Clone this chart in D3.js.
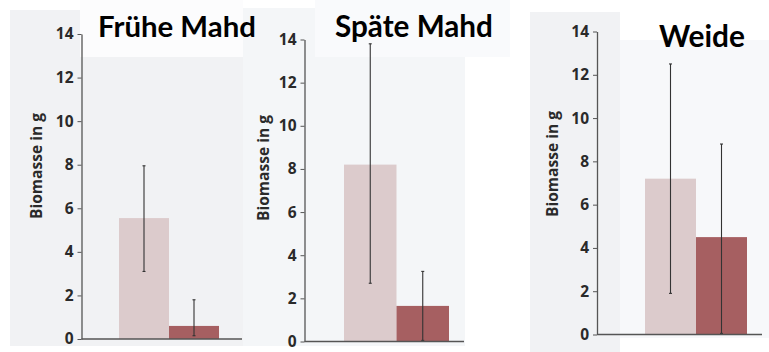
<!DOCTYPE html>
<html>
<head>
<meta charset="utf-8">
<script src="https://cdn.jsdelivr.net/npm/d3@7"></script>
<style>
  body { margin: 0; background: #ffffff; }
  svg { display: block; }
  .tick line { stroke: #555; }
  .domain { stroke: #555; stroke-width: 1.3px; }
</style>
</head>
<body>
<div id="chart"></div>
<script>
// values
var panelTitles = ["Frühe Mahd", "Späte Mahd", "Weide"];
var groups = ["früh", "spät"];
var lightMeans = [5.55, 8.2, 7.2];
var lightLow = [3.1, 2.7, 1.9];
var lightHigh = [7.95, 13.8, 12.5];
var darkMeans = [0.6, 1.65, 4.5];
var darkLow = [0.15, 0.05, 0.05];
var darkHigh = [1.8, 3.25, 8.8];
var yTicks = [0, 2, 4, 6, 8, 10, 12, 14];
var yLabel = "Biomasse in g";

var width = 769, height = 352;
var barColors = ["#dccbcc", "#a65f61"];

// layout of the three pasted panels
var layout = [
  { axisX: 81.5, y0: 339, y14: 34, barX: 119, barW: 50, baseEnd: 242, labelX: 37, labelY: 166,
    titleX: 98, titleY: 36.5, titleW: 158 },
  { axisX: 304.5, y0: 341.5, y14: 39.5, barX: 344, barW: 52.5, baseEnd: 464, labelX: 264, labelY: 168,
    titleX: 335, titleY: 36.5, titleW: 158 },
  { axisX: 597, y0: 334.5, y14: 31.5, barX: 645, barW: 51, baseEnd: 762, labelX: 553, labelY: 164,
    titleX: 659, titleY: 47, titleW: 86 }
];

var svg = d3.select("#chart").append("svg")
  .attr("width", width)
  .attr("height", height);

// scanned page backgrounds
var bg = [
  [10, 10, 233, 336, "#f1f2f4"],
  [80, 0, 163, 57, "#fcfcfd"],
  [243, 8, 222, 338, "#f4f6f8"],
  [315, 0, 195, 57, "#f9fafc"],
  [530, 12, 90, 340, "#f1f2f4"],
  [620, 40, 149, 298, "#f7f8fa"]
];
svg.selectAll("rect.bg").data(bg).enter().append("rect")
  .attr("class", "bg")
  .attr("x", function (d) { return d[0]; })
  .attr("y", function (d) { return d[1]; })
  .attr("width", function (d) { return d[2]; })
  .attr("height", function (d) { return d[3]; })
  .attr("fill", function (d) { return d[4]; });

// fit a text node to the width it takes in the picture
function fitWidth(t, target) {
  t.style("font-size", "100px");
  var w100 = t.node().getComputedTextLength();
  t.style("font-size", (100 * target / w100) + "px");
}

panelTitles.forEach(function (title, i) {
  var L = layout[i];
  var g = svg.append("g");

  var y = d3.scaleLinear().domain([0, 14]).range([L.y0, L.y14]);
  var x = d3.scaleBand().domain(groups).range([L.barX, L.barX + 2 * L.barW]).padding(0);

  var means = [lightMeans[i], darkMeans[i]];
  var lows = [lightLow[i], darkLow[i]];
  var highs = [lightHigh[i], darkHigh[i]];

  // bars
  g.selectAll("rect.bar").data(groups).enter().append("rect")
    .attr("class", "bar")
    .attr("x", function (d) { return x(d); })
    .attr("width", x.bandwidth())
    .attr("y", function (d, j) { return y(means[j]); })
    .attr("height", function (d, j) { return y(0) - y(means[j]); })
    .attr("fill", function (d, j) { return barColors[j]; });

  // error bars
  g.selectAll("line.err").data(groups).enter().append("line")
    .attr("class", "err")
    .attr("x1", function (d) { return x(d) + x.bandwidth() / 2; })
    .attr("x2", function (d) { return x(d) + x.bandwidth() / 2; })
    .attr("y1", function (d, j) { return y(lows[j]); })
    .attr("y2", function (d, j) { return y(highs[j]); })
    .attr("stroke", "#333")
    .attr("stroke-width", 1.1);
  ["low", "high"].forEach(function (end) {
    g.selectAll("line.cap-" + end).data(groups).enter().append("line")
      .attr("x1", function (d) { return x(d) + x.bandwidth() / 2 - 1.5; })
      .attr("x2", function (d) { return x(d) + x.bandwidth() / 2 + 1.5; })
      .attr("y1", function (d, j) { return y(end == "low" ? lows[j] : highs[j]); })
      .attr("y2", function (d, j) { return y(end == "low" ? lows[j] : highs[j]); })
      .attr("stroke", "#333")
      .attr("stroke-width", 1.1);
  });

  // baseline
  g.append("line")
    .attr("x1", L.axisX).attr("x2", L.baseEnd)
    .attr("y1", y(0)).attr("y2", y(0))
    .attr("stroke", "#555").attr("stroke-width", 1.3);

  // y axis
  var ax = g.append("g")
    .attr("transform", "translate(" + L.axisX + ",0)")
    .call(d3.axisLeft(y).tickValues(yTicks).tickSize(4).tickSizeOuter(0).tickPadding(4));
  ax.selectAll(".tick text")
    .attr("font-family", "'Open Sans', sans-serif")
    .attr("font-weight", 700)
    .attr("font-size", 15.5)
    .attr("fill", "#2a2a2a");

  // axis label
  var lab = g.append("text")
    .attr("transform", "translate(" + L.labelX + "," + L.labelY + ") rotate(-90)")
    .attr("text-anchor", "middle")
    .attr("dy", "0.35em")
    .style("font-family", "'Open Sans', sans-serif")
    .style("font-weight", 700)
    .style("fill", "#2a2a2a")
    .text(yLabel);
  fitWidth(lab, 106);

  // title
  var t = svg.append("text")
    .attr("x", L.titleX)
    .attr("y", L.titleY)
    .style("font-family", "Lato, 'Open Sans', sans-serif")
    .style("font-weight", 700)
    .style("fill", "#000")
    .text(title);
  fitWidth(t, L.titleW);
});
</script>
</body>
</html>
